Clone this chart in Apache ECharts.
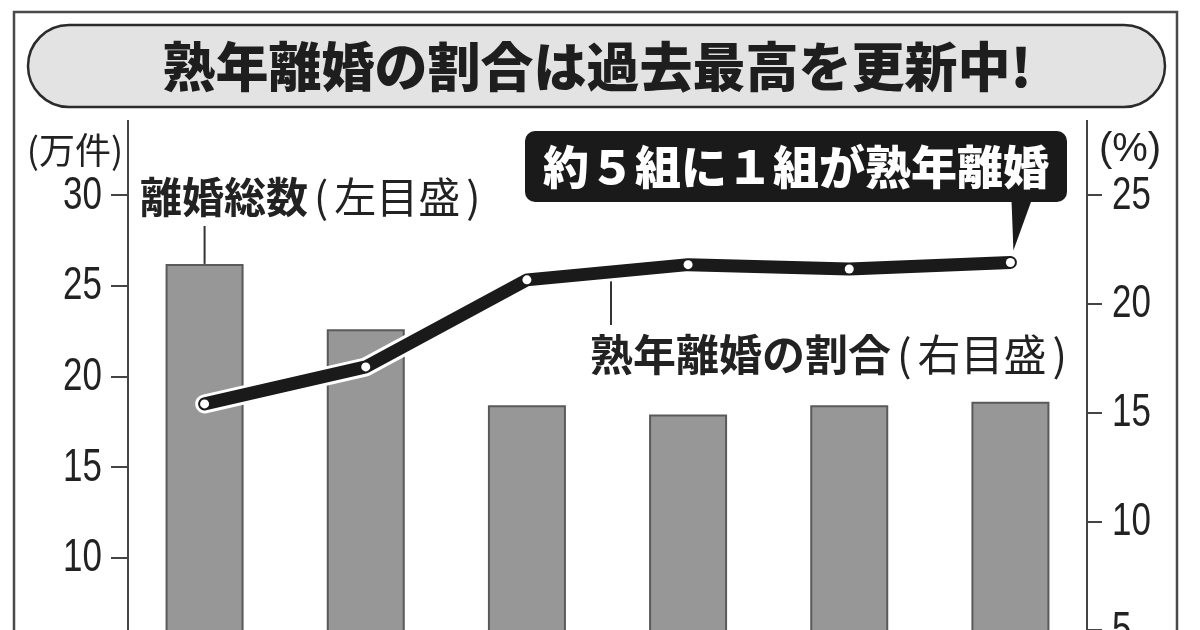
<!DOCTYPE html>
<html><head><meta charset="utf-8">
<script src="https://cdn.jsdelivr.net/npm/echarts@6/dist/echarts.min.js"></script>
<style>html,body{margin:0;padding:0;background:#fff}#c{width:1200px;height:630px}</style>
</head><body><div id="c"></div>
<script>
// ---- data ----
const categories = ['2005', '2015', '2021', '2022', '2023', '2024'];
const divorceTotal = [26.2, 22.6, 18.4, 17.9, 18.4, 18.6];   // 離婚総数（万件, 左目盛）
const jukunenShare = [15.4, 17.1, 21.1, 21.8, 21.6, 21.9];   // 熟年離婚の割合（%, 右目盛）
const leftTickLabels = [0, 5, 10, 15, 20, 25, 30];
const rightTickLabels = [0, 5, 10, 15, 20, 25];
const titleText = '熟年離婚の割合は過去最高を更新中!';
const calloutText = '約５組に１組が熟年離婚';
const leftUnit = '(万件)';
const rightUnit = '(%)';
const barLabelMain = '離婚総数';
const barLabelSub = '左目盛';
const lineLabelMain = '熟年離婚の割合';
const lineLabelSub = '右目盛';

const CJK = '"Noto Sans CJK JP", "Noto Sans CJK SC", sans-serif';
const NUM = '"Liberation Sans", "DejaVu Sans", sans-serif';

const chart = echarts.init(document.getElementById('c'), null, { renderer: 'canvas' });

const option = {
  backgroundColor: '#ffffff',
  animation: false,
  grid: { left: 124, right: 109, top: 195, height: 544, containLabel: false, outerBoundsMode: 'none' },
  xAxis: {
    type: 'category', data: categories, show: false, boundaryGap: true
  },
  yAxis: [
    {
      type: 'value', position: 'left', offset: -4,
      min: leftTickLabels[0], max: leftTickLabels[leftTickLabels.length - 1],
      interval: leftTickLabels[1] - leftTickLabels[0],
      axisLine: { show: true, lineStyle: { color: '#444', width: 2 } },
      axisTick: { show: true, inside: false, length: 17, lineStyle: { color: '#444', width: 2 } },
      axisLabel: { show: false },
      splitLine: { show: false }
    },
    {
      type: 'value', position: 'right', offset: -4,
      min: rightTickLabels[0], max: rightTickLabels[rightTickLabels.length - 1],
      interval: rightTickLabels[1] - rightTickLabels[0],
      axisLine: { show: true, lineStyle: { color: '#444', width: 2 } },
      axisTick: { show: true, inside: false, length: 15, lineStyle: { color: '#444', width: 2 } },
      axisLabel: { show: false },
      splitLine: { show: false }
    }
  ],
  series: [
    {
      name: '離婚総数', type: 'bar', yAxisIndex: 0, data: divorceTotal,
      barWidth: 78, z: 2,
      itemStyle: { color: '#979797', borderColor: '#5a5a5a', borderWidth: 2 }
    },
    {
      name: 'halo', type: 'line', yAxisIndex: 1, data: jukunenShare, z: 3, silent: true,
      symbol: 'none',
      lineStyle: { color: '#ffffff', width: 19, cap: 'round', join: 'round' }
    },
    {
      name: '熟年離婚の割合', type: 'line', yAxisIndex: 1, data: jukunenShare, z: 4,
      symbol: 'circle', symbolSize: 9, showSymbol: true,
      lineStyle: { color: '#1a1a1a', width: 13, cap: 'round', join: 'round' },
      itemStyle: { color: '#ffffff', borderWidth: 0 }
    }
  ]
};
chart.setOption(option);

// ---- annotations tied to data / axis positions ----
const bar0Top = chart.convertToPixel({ seriesIndex: 0 }, [0, divorceTotal[0]]);
const last = jukunenShare.length - 1;
const pLast = chart.convertToPixel({ seriesIndex: 2 }, [last, jukunenShare[last]]);
const p2 = chart.convertToPixel({ seriesIndex: 2 }, [2, jukunenShare[2]]);
const p3 = chart.convertToPixel({ seriesIndex: 2 }, [3, jukunenShare[3]]);
const leaderX = 611;
const leaderY = p2[1] + (p3[1] - p2[1]) * (leaderX - p2[0]) / (p3[0] - p2[0]);

// condensed tick labels (no condensed font installed, so squeeze horizontally)
const tickTexts = [];
leftTickLabels.forEach(function (v) {
  const y = chart.convertToPixel({ yAxisIndex: 0 }, v);
  tickTexts.push({ type: 'text', z: 2, x: 102, y: y + 1, scaleX: 0.76,
    style: { text: String(v), font: '46px ' + NUM, fill: '#222', align: 'right', verticalAlign: 'middle' } });
});
rightTickLabels.forEach(function (v) {
  const y = chart.convertToPixel({ yAxisIndex: 1 }, v);
  tickTexts.push({ type: 'text', z: 2, x: 1112, y: y + 1, scaleX: 0.76,
    style: { text: String(v), font: '46px ' + NUM, fill: '#222', align: 'left', verticalAlign: 'middle' } });
});

function labelRich(size) {
  return {
    b: { font: 'bold ' + size + 'px ' + CJK, fill: '#222' },
    n: { font: '400 ' + size + 'px ' + CJK, fill: '#222' },
    p: { font: '400 ' + size + 'px ' + CJK, fill: '#222', padding: [0, 6, 0, 6] }
  };
}

chart.setOption({
  graphic: [
    // outer frame
    { type: 'rect', z: 0, shape: { x: 14, y: 12, width: 1163, height: 700 },
      style: { fill: null, stroke: '#4a4a4a', lineWidth: 2.5 } },
    // title pill
    { type: 'rect', z: 1, shape: { x: 28, y: 25, width: 1137, height: 82, r: 41 },
      style: { fill: '#e3e3e3', stroke: '#2b2b2b', lineWidth: 2.5 } },
    { type: 'text', z: 2, x: 597, y: 67,
      style: { text: titleText, font: '900 53px ' + CJK, fill: '#1e1e1e', align: 'center', verticalAlign: 'middle' } },
    // axis extensions above plot
    { type: 'line', z: 1, shape: { x1: 128, y1: 120, x2: 128, y2: 195 }, style: { stroke: '#444', lineWidth: 2 } },
    { type: 'line', z: 1, shape: { x1: 1087, y1: 120, x2: 1087, y2: 195 }, style: { stroke: '#444', lineWidth: 2 } },
    // units
    { type: 'text', z: 2, x: 75, y: 150,
      style: { text: leftUnit, font: '36px ' + CJK, fill: '#222', align: 'center', verticalAlign: 'middle' } },
    { type: 'text', z: 2, x: 1130, y: 150,
      style: { text: rightUnit, font: '40px ' + NUM, fill: '#222', align: 'center', verticalAlign: 'middle' } },
    // bar label + leader
    { type: 'line', z: 1, shape: { x1: bar0Top[0], y1: bar0Top[1], x2: bar0Top[0], y2: 226 },
      style: { stroke: '#333', lineWidth: 2 } },
    { type: 'text', z: 2, x: 140, y: 197,
      style: { text: '{b|' + barLabelMain + '}{p|(}{n|' + barLabelSub + '}{p|)}', verticalAlign: 'middle', align: 'left',
        rich: labelRich(42) } },
    // line label + leader
    { type: 'line', z: 1, shape: { x1: leaderX, y1: leaderY + 8, x2: leaderX, y2: 325 },
      style: { stroke: '#333', lineWidth: 2 } },
    { type: 'text', z: 2, x: 590, y: 355,
      style: { text: '{b|' + lineLabelMain + '}{p|(}{n|' + lineLabelSub + '}{p|)}', verticalAlign: 'middle', align: 'left',
        rich: labelRich(43) } },
    // callout
    { type: 'polygon', z: 5, shape: { points: [[pLast[0] + 1, 198], [pLast[0] + 22, 198], [pLast[0] + 3, pLast[1] - 12]] },
      style: { fill: '#1a1a1a' } },
    { type: 'rect', z: 5, shape: { x: 525, y: 131, width: 542, height: 71, r: 10 },
      style: { fill: '#1a1a1a' } },
    { type: 'text', z: 6, x: 796, y: 167,
      style: { text: calloutText, font: '900 46px ' + CJK, fill: '#ffffff', align: 'center', verticalAlign: 'middle' } }
  ].concat(tickTexts)
});
</script>
</body></html>
